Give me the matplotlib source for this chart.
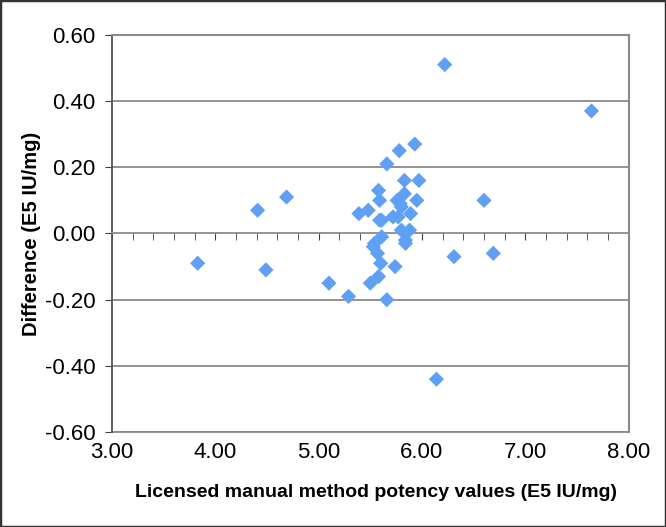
import numpy as np
from matplotlib import pyplot as plt
from matplotlib.patches import Rectangle
from matplotlib.ticker import MultipleLocator

plt.rcParams['font.family'] = ['Liberation Sans', 'DejaVu Sans']

# licensed manual method potency (E5 IU/mg) vs difference
potency = [3.83, 4.41, 4.49, 4.69, 5.10, 5.29, 5.39, 5.48, 5.50, 5.53,
           5.54, 5.57, 5.58, 5.58, 5.59, 5.59, 5.61, 5.60, 5.61, 5.66,
           5.66, 5.72, 5.74, 5.77, 5.76, 5.78, 5.79, 5.80, 5.80, 5.83,
           5.83, 5.84, 5.84, 5.88, 5.89, 5.93, 5.95, 5.97, 6.14, 6.22,
           6.31, 6.60, 6.69, 7.64]
difference = [-0.09, 0.07, -0.11, 0.11, -0.15, -0.19, 0.06, 0.07, -0.15, -0.04,
              -0.03, -0.06, -0.13, 0.13, 0.10, 0.04, 0.04, -0.09, -0.01, 0.21,
              -0.20, 0.05, -0.10, 0.05, 0.10, 0.25, 0.09, 0.08, 0.01, 0.16,
              0.12, -0.02, -0.03, 0.01, 0.06, 0.27, 0.10, 0.16, -0.44, 0.51,
              -0.07, 0.10, -0.06, 0.37]

x_ticks = [3, 4, 5, 6, 7, 8]
y_ticks = [-0.6, -0.4, -0.2, 0.0, 0.2, 0.4, 0.6]

fig = plt.figure(figsize=(6.66, 5.27), dpi=100)
ax = fig.add_axes([0.168, 0.180, 0.776, 0.754])

grid_col = '#8a8a8a'
for yv in y_ticks:
    if yv != 0.0:
        ax.axhline(yv, color=grid_col, lw=1.3, zorder=1)

ax.scatter(potency, difference, marker='D', s=60, color='#5fa0f5',
           edgecolors='none', zorder=3)

ax.set_xlim(3, 8)
ax.set_ylim(-0.6, 0.6)

# x axis line crosses at y = 0 (Excel style), labels stay at the bottom
ax.spines['bottom'].set_position(('data', 0))
ax.spines['bottom'].set_color(grid_col)
ax.spines['bottom'].set_linewidth(1.3)
ax.xaxis.set_major_locator(MultipleLocator(1))
ax.xaxis.set_minor_locator(MultipleLocator(0.2))
ax.tick_params(axis='x', which='both', direction='out', length=5,
               color='#404040', labelbottom=False)

for side in ['top', 'right']:
    ax.spines[side].set_color(grid_col)
    ax.spines[side].set_linewidth(1.5)
ax.spines['left'].set_color('#555555')
ax.spines['left'].set_linewidth(1.3)

ax.set_yticks(y_ticks)
ax.set_yticklabels(['%.2f' % v for v in y_ticks], fontsize=16)
ax.tick_params(axis='y', direction='out', length=5, color='#404040', pad=7)

sec = ax.secondary_xaxis('bottom')
sec.set_xticks(x_ticks)
sec.set_xticklabels(['%.2f' % v for v in x_ticks], fontsize=16)
sec.tick_params(length=0, pad=7)
sec.spines['bottom'].set_color(grid_col)
sec.spines['bottom'].set_linewidth(1.3)

ax.set_ylabel('Difference (E5 IU/mg)', fontsize=14.5, fontweight='bold')
ax.yaxis.set_label_coords(-0.137, 0.5)
fig.text(0.565, 0.066, 'Licensed manual method potency values (E5 IU/mg)',
         fontsize=14, fontweight='bold', ha='center', va='center')

fig.patches.append(Rectangle((0, 0), 1, 1, transform=fig.transFigure,
                             fill=False, edgecolor='#333333', lw=2.5))

fig.savefig('out.png', dpi=100)
